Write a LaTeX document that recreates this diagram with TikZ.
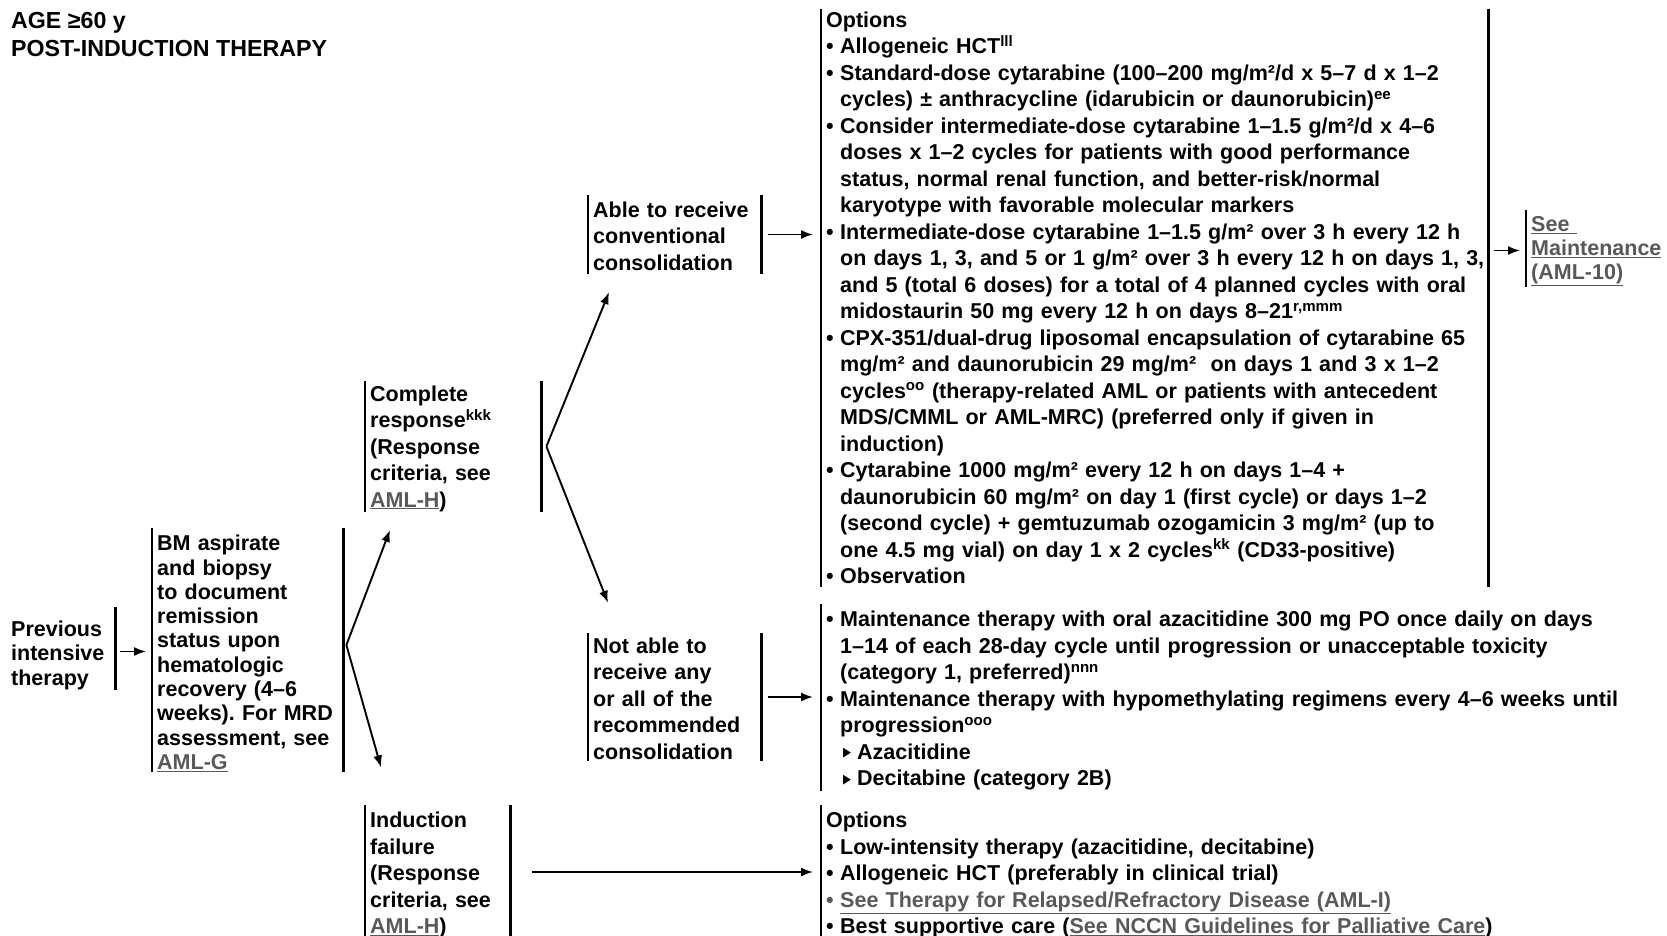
\documentclass[tikz,border=0pt]{standalone}
\usepackage{fontspec}
\setmainfont{Liberation Sans}
\newfontfamily\dejavu{DejaVu Sans}
\usetikzlibrary{arrows.meta,calc}
\definecolor{linkgray}{HTML}{595959}
\frenchspacing
\newcommand\lnk[1]{\textcolor{linkgray}{\underline{#1}}}
\newcommand\bulx{\makebox[14pt][l]{•}}
\newcommand\indt{\hspace*{14pt}}
\newcommand\trix{\hspace*{17pt}\makebox[14pt][l]{\raisebox{2.6pt}{\scalebox{0.8}[1]{\dejavu\fontsize{13}{13}\selectfont ▶}}}}
\newcommand\tp[1]{\rule{0pt}{#1pt}}
\begin{document}
\begin{tikzpicture}[x=1pt,y=-1pt,
  txt/.style={font=\bfseries\fontsize{21.5}{26.5}\selectfont, align=left, inner xsep=5pt, inner ysep=0pt, anchor=west},
  bar/.style={line width=2.2pt},
  arr/.style={line width=1.9pt, -{Latex[length=12pt,width=9pt]}}]
\useasboundingbox (0,0) rectangle (1667,936);

\node[txt, anchor=north west, inner xsep=0pt, font=\bfseries\fontsize{23.2}{28}\selectfont] (hdr) at (11,12) {AGE ≥60 y\\POST-INDUCTION THERAPY};

\node[txt, text width=99pt, minimum height=71pt, font=\bfseries\fontsize{21.5}{24.5}\selectfont] (prev) at (6,648.5) {\tp{28.8}Previous\\intensive\\therapy};

\node[txt, text width=181pt, minimum height=235pt, font=\bfseries\fontsize{21.5}{24.3}\selectfont] (bm) at (152,650) {\tp{22.4}BM aspirate\\and biopsy\\to document\\remission\\status upon\\hematologic\\recovery (4–6\\weeks). For MRD\\assessment, see\\\lnk{AML-G}};

\node[txt, text width=166pt, minimum height=127pt] (cr) at (365,446.5) {\tp{20}Complete\\response\textsuperscript{kkk}\\(Response\\criteria, see\\\lnk{AML-H})};

\node[txt, text width=163pt, minimum height=79pt] (able) at (588,234.5) {\tp{19}Able to receive\\conventional\\consolidation};

\node[txt, text width=657pt, minimum height=578pt] (opt) at (821,298) {\mbox{Options}\\
\mbox{\bulx Allogeneic HCT\textsuperscript{lll}}\\
\mbox{\bulx Standard-dose cytarabine (100–200 mg/m²/d x 5–7 d x 1–2}\\
\mbox{\indt cycles) ± anthracycline (idarubicin or daunorubicin)\textsuperscript{ee}}\\
\mbox{\bulx Consider intermediate-dose cytarabine 1–1.5 g/m²/d x 4–6}\\
\mbox{\indt doses x 1–2 cycles for patients with good performance}\\
\mbox{\indt status, normal renal function, and better-risk/normal}\\
\mbox{\indt karyotype with favorable molecular markers}\\
\mbox{\bulx Intermediate-dose cytarabine 1–1.5 g/m² over 3 h every 12 h}\\
\mbox{\indt on days 1, 3, and 5 or 1 g/m² over 3 h every 12 h on days 1, 3,}\\
\mbox{\indt and 5 (total 6 doses) for a total of 4 planned cycles with oral}\\
\mbox{\indt midostaurin 50 mg every 12 h on days 8–21\textsuperscript{r,mmm}}\\
\mbox{\bulx CPX-351/dual-drug liposomal encapsulation of cytarabine 65}\\
\mbox{\indt mg/m² and daunorubicin 29 mg/m²~ on days 1 and 3 x 1–2}\\
\mbox{\indt cycles\textsuperscript{oo} (therapy-related AML or patients with antecedent}\\
\mbox{\indt MDS/CMML or AML-MRC) (preferred only if given in}\\
\mbox{\indt induction)}\\
\mbox{\bulx Cytarabine 1000 mg/m² every 12 h on days 1–4 +}\\
\mbox{\indt daunorubicin 60 mg/m² on day 1 (first cycle) or days 1–2}\\
\mbox{\indt (second cycle) + gemtuzumab ozogamicin 3 mg/m² (up to}\\
\mbox{\indt one 4.5 mg vial) on day 1 x 2 cycles\textsuperscript{kk} (CD33-positive)}\\
\mbox{\bulx Observation}};

\node[txt, text width=130pt, minimum height=77pt, font=\bfseries\fontsize{21.5}{24}\selectfont] (seem) at (1526,248.5) {\tp{21}\lnk{See\ }\\\lnk{Maintenance}\\\lnk{(AML-10)}};

\node[txt, text width=163pt, minimum height=128pt] (notable) at (588,697) {\tp{19}Not able to\\receive any\\or all of the\\recommended\\consolidation};

\node[txt, text width=830pt, minimum height=179pt] (maint) at (821,697.5) {\tp{22.4}\bulx Maintenance therapy with oral azacitidine 300 mg PO once daily on days\\
\indt 1–14 of each 28-day cycle until progression or unacceptable toxicity\\
\indt (category 1, preferred)\textsuperscript{nnn}\\
\bulx Maintenance therapy with hypomethylating regimens every 4–6 weeks until\\
\indt progression\textsuperscript{ooo}\\
\trix Azacitidine\\
\trix Decitabine (category 2B)};

\node[txt, text width=135pt, minimum height=128pt] (ind) at (365,872) {\tp{22.4}Induction\\failure\\(Response\\criteria, see\\\lnk{AML-H})};

\node[txt, text width=830pt, minimum height=128pt] (fail) at (821,872) {\tp{22.4}Options\\
\bulx Low-intensity therapy (azacitidine, decitabine)\\
\bulx Allogeneic HCT (preferably in clinical trial)\\
\textcolor{linkgray}{\bulx}\lnk{See Therapy for Relapsed/Refractory Disease (AML-I)}\\
\bulx Best supportive care (\lnk{See NCCN Guidelines for Palliative Care})};

% bars
\foreach \n in {bm,cr,able,opt,notable,ind}{
  \draw[bar] (\n.north west) -- (\n.south west);
  \draw[bar] (\n.north east) -- (\n.south east);
}
\draw[bar] (prev.north east) -- (prev.south east);
\foreach \n in {seem,maint,fail}{
  \draw[bar] (\n.north west) -- (\n.south west);
}

% arrows
\draw[arr, shorten >=6pt] ($(prev.east)+(5pt,-3pt)$) -- ($(prev.east -| bm.west)+(0,-3pt)$);
\coordinate (b1) at ($(bm.east)+(3pt,5pt)$);
\draw[arr] (b1) -- ($(cr.south west)+(25pt,-18pt)$);
\draw[arr] (b1) -- ($(ind.north west)+(16pt,38pt)$);
\coordinate (b2) at ($(cr.east)+(5pt,0)$);
\draw[arr] (b2) -- ($(able.south west)+(21pt,-18pt)$);
\draw[arr] (b2) -- ($(notable.north west)+(20pt,30pt)$);
\draw[arr, shorten >=8pt] ($(able.east)+(7pt,0)$) -- (able.east -| opt.west);
\draw[arr, shorten >=6pt] ($(seem.west -| opt.east)+(6pt,-2pt)$) -- ($(seem.west)+(0,-2pt)$);
\draw[arr, shorten >=8pt] ($(notable.east)+(7pt,0)$) -- (notable.east -| maint.west);
\draw[arr, shorten >=8pt] ($(ind.east)+(22pt,0)$) -- (ind.east -| fail.west);
\end{tikzpicture}
\end{document}
